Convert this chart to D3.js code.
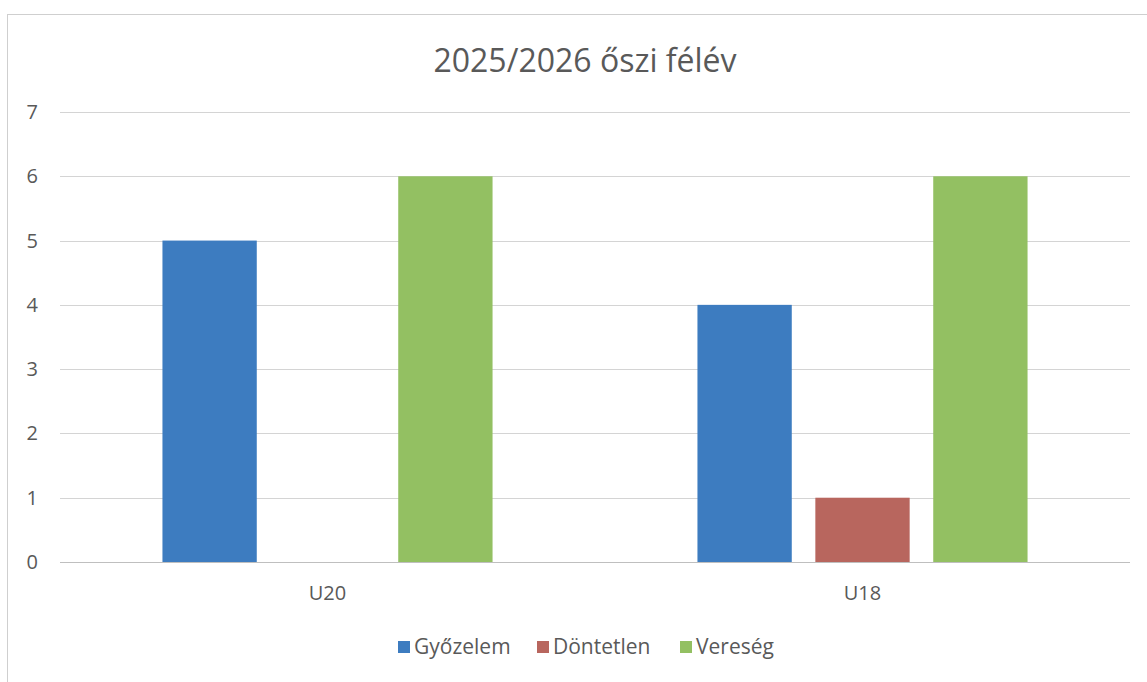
<!DOCTYPE html>
<html>
<head>
<meta charset="utf-8">
<script src="https://cdn.jsdelivr.net/npm/d3@7"></script>
<style>
  html, body { margin: 0; padding: 0; background: #fff; }
  svg { display: block; font-family: "Open Sans", "Noto Sans", sans-serif; }
</style>
</head>
<body>
<div id="chart"></div>
<script>
(function () {
  'use strict';

  var categories = ['U20', 'U18'];
  var series = ['Győzelem', 'Döntetlen', 'Vereség'];
  var gyozelem = [5, 4];
  var dontetlen = [0, 1];
  var vereseg = [6, 6];
  var yTicks = [0, 1, 2, 3, 4, 5, 6, 7];
  var colors = ['#3d7cc0', '#b8665e', '#93c062'];
  var title = '2025/2026 őszi félév';

  var values = [gyozelem, dontetlen, vereseg];
  var width = 1147, height = 682;
  var margin = { top: 112, right: 17, bottom: 120, left: 60 };
  var w = width - margin.left - margin.right;
  var h = height - margin.top - margin.bottom;

  var svg = d3.select('#chart').append('svg')
    .attr('width', width).attr('height', height);

  // chart area outline
  svg.append('rect').attr('x', 7.5).attr('y', 14.5)
    .attr('width', width + 20).attr('height', height + 20)
    .attr('fill', 'none').attr('stroke', '#cfcfcf');

  svg.append('text').attr('x', 585).attr('y', 72)
    .attr('text-anchor', 'middle').style('font-size', '32px')
    .attr('fill', '#595959').text(title);

  var g = svg.append('g').attr('transform', 'translate(' + margin.left + ',' + margin.top + ')');

  var y = d3.scaleLinear().domain([0, 7]).range([h, 0]);
  var x0 = d3.scaleBand().domain(categories).range([0, w]);
  var groupW = x0.bandwidth() * 0.617;
  var x1 = d3.scaleBand().domain(series).range([0, groupW]).paddingInner(0.2);

  // gridlines
  g.append('g').selectAll('line').data(yTicks).enter().append('line')
    .attr('x1', 0).attr('x2', w)
    .attr('y1', function (d) { return Math.round(y(d)) + 0.5; })
    .attr('y2', function (d) { return Math.round(y(d)) + 0.5; })
    .attr('stroke', function (d) { return d === 0 ? '#bfbfbf' : '#d4d4d4'; });

  // y labels
  g.append('g').selectAll('text').data(yTicks).enter().append('text')
    .attr('x', -22).attr('y', function (d) { return y(d); })
    .attr('dy', '0.35em').attr('text-anchor', 'end')
    .style('font-size', '20px').attr('fill', '#595959')
    .text(function (d) { return d; });

  // bars
  var groups = g.selectAll('.grp').data(categories).enter().append('g')
    .attr('class', 'grp')
    .attr('transform', function (d) {
      return 'translate(' + (x0(d) + (x0.bandwidth() - groupW) / 2) + ',0)';
    });

  groups.selectAll('rect')
    .data(function (c, ci) {
      return series.map(function (s, si) { return { s: s, si: si, v: values[si][ci] }; });
    })
    .enter().append('rect')
    .attr('x', function (d) { return x1(d.s); })
    .attr('y', function (d) { return y(d.v); })
    .attr('width', x1.bandwidth())
    .attr('height', function (d) { return h - y(d.v); })
    .attr('fill', function (d) { return colors[d.si]; });

  // category labels
  g.append('g').selectAll('text').data(categories).enter().append('text')
    .attr('x', function (d) { return x0(d) + x0.bandwidth() / 2; })
    .attr('y', h + 38).attr('text-anchor', 'middle')
    .style('font-size', '20px').attr('fill', '#595959')
    .text(function (d) { return d; });

  // legend
  var legendX = [398, 537, 680];
  var legend = svg.append('g').attr('transform', 'translate(0,647)');
  series.forEach(function (s, i) {
    legend.append('rect').attr('x', legendX[i]).attr('y', -6)
      .attr('width', 12).attr('height', 12).attr('fill', colors[i]);
    legend.append('text').attr('x', legendX[i] + 16).attr('y', 0)
      .attr('dy', '0.35em').style('font-size', '21px').attr('fill', '#595959')
      .text(s);
  });
})();
</script>
</body>
</html>
